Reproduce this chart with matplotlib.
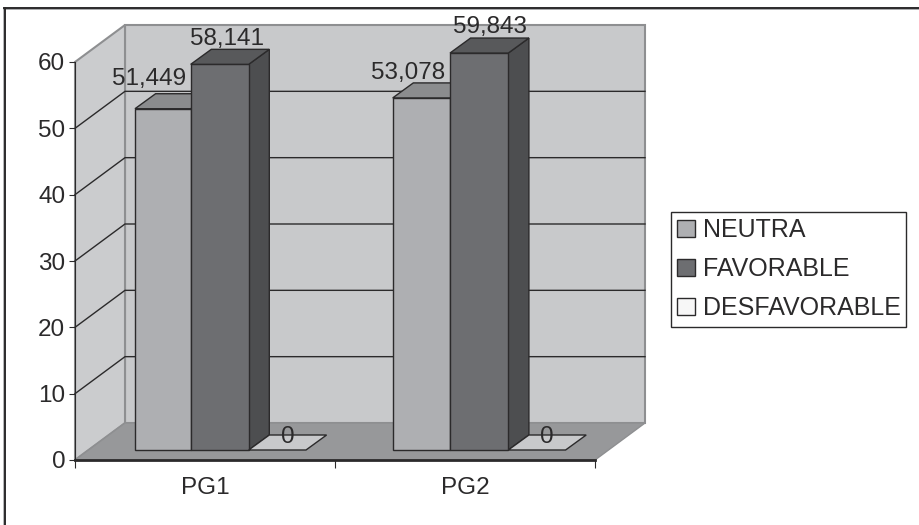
import matplotlib
matplotlib.use('Agg')
import matplotlib.pyplot as plt
from matplotlib.lines import Line2D
from matplotlib.patches import Patch

categories = ['PG1', 'PG2']
series_names = ['NEUTRA', 'FAVORABLE', 'DESFAVORABLE']
neutra = [51.449, 53.078]
favorable = [58.141, 59.843]
desfavorable = [0, 0]
value_labels = [['51,449', '53,078'], ['58,141', '59,843'], ['0', '0']]
yticks = [0, 10, 20, 30, 40, 50, 60]

face_colors = ['#aeafb2', '#6d6e71', '#f7f7f7']
top_colors = ['#8b8c8e', '#58595b', '#c8c9cb']
side_colors = ['#8b8c8e', '#4d4e50', '#c8c9cb']
# bar edges in pixels for each group
bar_edges = [[135, 190.7, 248.7, 306], [392.7, 450, 508.3, 565.6]]
# label shift from bar top centre, in pixels, per series and group
label_shift = [[(-13.5, 24), (-13, 18.7)], [(7.6, 19), (10.5, 20)], [(10.5, 7.3), (10.3, 7.3)]]

W, H = 920, 525
LEFT, RIGHT, BOTTOM, TOP = 75, 595, 460, 62
PX_X = (RIGHT - LEFT) / 2.0
PX_Y = (BOTTOM - TOP) / 60.0
DARK = '#2b2a2b'

plt.rcParams['font.family'] = ['Liberation Sans', 'DejaVu Sans']
plt.rcParams['font.size'] = 17.5
plt.rcParams['text.color'] = DARK

fig = plt.figure(figsize=(W / 100, H / 100), dpi=100)
ax = fig.add_axes([LEFT / W, 1 - BOTTOM / H, (RIGHT - LEFT) / W, (BOTTOM - TOP) / H])
ax.set_xlim(0, 2)
ax.set_ylim(0, 60)
ax.patch.set_visible(False)

# outer frame, only top and left reach the picture
fig.add_artist(Line2D([4 / W, 4 / W], [0, 1 - 8.5 / H], color='#a8a9ab', linewidth=1.2))
fig.add_artist(Line2D([4 / W, 1], [1 - 8.8 / H, 1 - 8.8 / H], color='#9a9b9d', linewidth=1.2))
fig.add_artist(Line2D([5.5 / W, 5.5 / W], [0, 1 - 7.5 / H], color=DARK, linewidth=1.4))
fig.add_artist(Line2D([4 / W, 1], [1 - 7.5 / H, 1 - 7.5 / H], color=DARK, linewidth=1.4))

# depth of the box and of the bars, in data units
box_dx = 50 / PX_X
box_dy = 37 / PX_Y
bar_dx = 20.6 / PX_X
bar_dy = 15 / PX_Y
lift = 10 / PX_Y

# back wall, side wall, floor
ax.fill([box_dx, 2 + box_dx, 2 + box_dx, box_dx], [box_dy, box_dy, 60 + box_dy, 60 + box_dy],
        facecolor='#c8c9cb', edgecolor='#8e8f91', linewidth=1.5, clip_on=False, zorder=1)
ax.fill([0, box_dx, box_dx, 0], [0, box_dy, 60 + box_dy, 60],
        facecolor='#cbccce', edgecolor='#8e8f91', linewidth=1.5, clip_on=False, zorder=1)
ax.fill([0, 2, 2 + box_dx, box_dx], [0, 0, box_dy, box_dy],
        facecolor='#97989a', edgecolor='#8e8f91', linewidth=1, clip_on=False, zorder=1)

for v in yticks[1:-1]:
    ax.plot([0, box_dx, 2 + box_dx], [v, v + box_dy, v + box_dy], color=DARK, linewidth=1,
            clip_on=False, zorder=2)

# bars, back to front per group
all_values = [neutra, favorable, desfavorable]
for s, values in enumerate(all_values):
    for c, v in enumerate(values):
        x0 = (bar_edges[c][s] - LEFT) / PX_X
        bar_w = (bar_edges[c][s + 1] - bar_edges[c][s]) / PX_X
        y1 = lift + v
        if v > 0:
            ax.fill([x0 + bar_w, x0 + bar_w + bar_dx, x0 + bar_w + bar_dx, x0 + bar_w],
                    [lift, lift + bar_dy, y1 + bar_dy, y1], facecolor=side_colors[s],
                    edgecolor=DARK, linewidth=1, clip_on=False, zorder=3 + s)
            ax.bar(x0, v, bar_w, bottom=lift, align='edge', color=face_colors[s],
                   edgecolor=DARK, linewidth=1, clip_on=False, zorder=3 + s)
        ax.fill([x0, x0 + bar_w, x0 + bar_w + bar_dx, x0 + bar_dx],
                [y1, y1, y1 + bar_dy, y1 + bar_dy], facecolor=top_colors[s],
                edgecolor=DARK, linewidth=1, clip_on=False, zorder=3 + s)
        dx, dy = label_shift[s][c]
        ax.annotate(value_labels[s][c], (x0 + bar_w / 2, y1), xytext=(dx * 0.72, dy * 0.72),
                    textcoords='offset points', ha='center', va='baseline',
                    annotation_clip=False, zorder=8)

# axes
for name in ['top', 'right']:
    ax.spines[name].set_visible(False)
ax.spines['left'].set_color(DARK)
ax.spines['bottom'].set_color(DARK)
ax.spines['bottom'].set_linewidth(2)
ax.spines['left'].set_zorder(9)
ax.spines['bottom'].set_zorder(9)
ax.set_yticks(yticks)
ax.tick_params(axis='y', length=4, color=DARK, pad=3, labelcolor=DARK)
ax.set_xticks([0, 1, 2])
ax.set_xticklabels([])
ax.tick_params(axis='x', which='major', length=6, color=DARK)
ax.set_xticks([0.5, 1.5], minor=True)
ax.set_xticklabels(categories, minor=True)
ax.tick_params(axis='x', which='minor', length=0, pad=12, labelcolor=DARK)

handles = [Patch(facecolor=face_colors[i], edgecolor=DARK, linewidth=1) for i in range(3)]
leg = fig.legend(handles, series_names, loc='lower left',
                 bbox_to_anchor=(670.7 / W, 1 - 326.7 / H, 235 / W, 115 / H), mode='expand',
                 fancybox=False, framealpha=1, edgecolor=DARK, borderaxespad=0, borderpad=0.26,
                 handlelength=0.72, handleheight=0.72, handletextpad=0.3, labelspacing=0.6,
                 labelcolor=DARK, fontsize=18)
leg.get_frame().set_linewidth(1)

fig.savefig('out.png', dpi=100)
